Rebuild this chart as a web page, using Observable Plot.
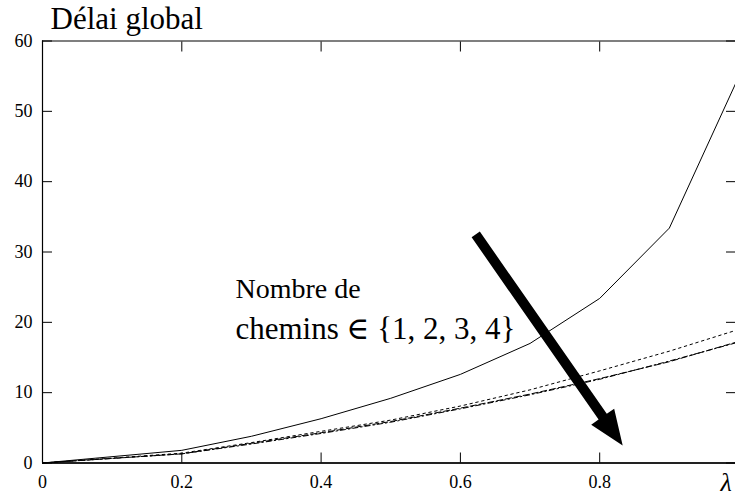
<!DOCTYPE html>
<html>
<head>
<meta charset="utf-8">
<script src="https://cdn.jsdelivr.net/npm/d3@7"></script>
<script src="https://cdn.jsdelivr.net/npm/@observablehq/plot@0.6"></script>
<style>
  html, body { margin: 0; padding: 0; background: #fff; }
  #chart { width: 735px; height: 498px; overflow: hidden; }
  #chart svg, #chart svg text { font-family: "Liberation Serif", "DejaVu Serif", "Times New Roman", serif !important; }
</style>
</head>
<body>
<div id="chart"></div>
<script>
// ---- data ----
const lambda = [0, 0.2, 0.3, 0.4, 0.5, 0.6, 0.7, 0.8, 0.9, 1.0];
const path1 = [0, 1.8, 3.8, 6.3, 9.2, 12.6, 17.0, 23.4, 33.4, 55.0];
const path2 = [0, 1.4, 2.9, 4.5, 6.1, 8.1, 10.4, 13.1, 15.9, 19.0];
const path3 = [0, 1.3, 2.8, 4.3, 5.9, 7.8, 9.8, 12.0, 14.4, 17.3];
const path4 = [0, 1.3, 2.7, 4.2, 5.8, 7.7, 9.7, 11.9, 14.5, 17.2];
const xTicks = [0, 0.2, 0.4, 0.6, 0.8, 1.0];
const xTickLabels = ["0", "0.2", "0.4", "0.6", "0.8", ""];
const yTicks = [0, 10, 20, 30, 40, 50, 60];
const title = "Délai global";
const xLabel = "λ";
const noteLine1 = "Nombre de";
const noteLine2 = "chemins ∈ {1, 2, 3, 4}";
// arrow annotation endpoints in data units
const arrowFrom = {x: 0.622, y: 32.5};
const arrowTo = {x: 0.833, y: 2.5};

const rows = [];
const series = [
  {name: "1", values: path1},
  {name: "2", values: path2},
  {name: "3", values: path3},
  {name: "4", values: path4}
];
for (const s of series) s.values.forEach((v, i) => rows.push({x: lambda[i], y: v, k: s.name}));

const W = 735, H = 498;
const mL = 42, mT = 40.5, mB = 35.5;
const xRange = [mL, 738.5];
const yRange = [H - mB, mT];
const xs = Plot.scale({x: {domain: [0, 1], range: xRange}});
const ys = Plot.scale({y: {domain: [0, 60], range: yRange}});

const px0 = xs.apply(arrowFrom.x), py0 = ys.apply(arrowFrom.y);
const px1 = xs.apply(arrowTo.x), py1 = ys.apply(arrowTo.y);
const arrowLen = Math.hypot(px1 - px0, py1 - py0);
const arrowRot = Math.atan2(px1 - px0, -(py1 - py0)) * 180 / Math.PI;

const arrowShape = {
  draw(ctx, l) {
    const hl = 35, hw = 14, sw = 5;
    ctx.moveTo(-sw, 0);
    ctx.lineTo(-sw, -(l - hl));
    ctx.lineTo(-hw, -(l - hl));
    ctx.lineTo(0, -l);
    ctx.lineTo(hw, -(l - hl));
    ctx.lineTo(sw, -(l - hl));
    ctx.lineTo(sw, 0);
    ctx.closePath();
  }
};

const dashes = {"1": null, "2": "2.5,3.5", "3": "6,3", "4": "5,3,1.5,3"};

const font = "Liberation Serif";

const chart = Plot.plot({
  width: W,
  height: H,
  marginLeft: mL,
  marginTop: mT,
  marginBottom: mB,
  marginRight: 0,
  style: {fontFamily: "'Liberation Serif', serif", fontSize: "18px", background: "#fff", color: "#000", overflow: "hidden"},
  x: {domain: [0, 1], range: xRange},
  y: {domain: [0, 60], range: yRange},
  marks: [
    // frame
    Plot.ruleX([0, 1], {stroke: "#000", strokeWidth: 1.2}),
    Plot.ruleY([60], {stroke: "#000", strokeWidth: 1.2}),
    Plot.ruleY([0], {stroke: "#222", strokeWidth: 2}),
    // axes with inward ticks
    Plot.axisX({anchor: "bottom", ticks: xTicks, tickSize: -10, tickPadding: 22,
      tickFormat: (d) => xTickLabels[xTicks.indexOf(d)], fontSize: 18, fontFamily: font, label: null}),
    Plot.axisX({anchor: "top", ticks: xTicks, tickSize: -10, tickFormat: () => "", label: null}),
    Plot.axisY({anchor: "left", ticks: yTicks, tickSize: -10, tickPadding: 20, fontSize: 18, fontFamily: font, label: null}),
    Plot.axisY({anchor: "right", ticks: yTicks, tickSize: -10, tickFormat: () => "", label: null}),
    // series
    ...series.map(s => Plot.line(rows.filter(r => r.k === s.name), {
      x: "x", y: "y", stroke: "#000", strokeWidth: 1, strokeDasharray: dashes[s.name]
    })),
    // arrow
    Plot.vector([arrowTo], {x: "x", y: "y", anchor: "end", length: arrowLen, rotate: arrowRot,
      shape: arrowShape, fill: "#000", stroke: "none"}),
    // annotation text
    Plot.text([noteLine1], {x: 0.277, y: 24.8, text: d => d, textAnchor: "start", lineAnchor: "middle",
      fontSize: 28, fontFamily: font, fill: "#000"}),
    Plot.text([noteLine2], {x: 0.277, y: 19.1, text: d => d, textAnchor: "start", lineAnchor: "middle",
      fontSize: 31, fontFamily: font, fill: "#000"}),
    // title
    Plot.text([title], {frameAnchor: "top-left", text: d => d, dx: 8, dy: -21.5, textAnchor: "start",
      lineAnchor: "middle", fontSize: 31, fontFamily: font, fill: "#000"}),
    // x label
    Plot.text([xLabel], {x: 1, frameAnchor: "bottom", text: d => d, dx: -13, dy: 20, textAnchor: "middle",
      lineAnchor: "middle", fontSize: 26, fontStyle: "italic", fontFamily: font, fill: "#000"})
  ]
});
document.getElementById("chart").appendChild(chart);
</script>
</body>
</html>
